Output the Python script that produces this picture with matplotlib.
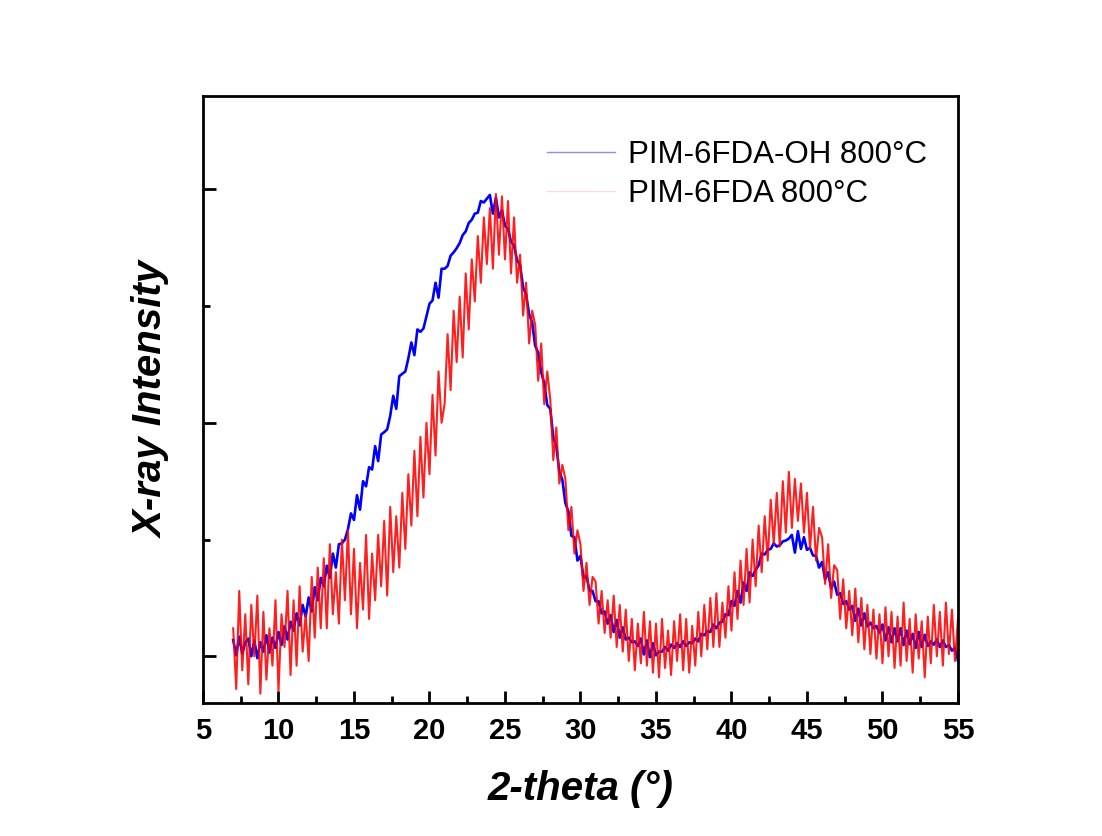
import numpy as np
import matplotlib
matplotlib.use("Agg")
import matplotlib.pyplot as plt
from matplotlib.lines import Line2D

plt.rcParams['font.family'] = ['Liberation Sans', 'DejaVu Sans']

# 2-theta grid (deg), 0.2 deg step from 7 to 55
two_theta = np.linspace(7.0, 55.0, 241)

# PIM-6FDA-OH 800oC (blue), one row per degree: x.0 x.2 x.4 x.6 x.8
int_oh = [
    35, 2, 42, 5, 30,           # 7
    38, 0, 34, -4, 30,          # 8
    10, 45, 8, 40, 18,          # 9
    52, 24, 64, 36, 74,         # 10
    55, 92, 66, 110, 85,        # 11
    126, 96, 148, 120, 168,     # 12
    150, 194, 168, 220, 190,    # 13
    240, 242, 250, 272, 306,    # 14
    292, 345, 314, 375, 364,    # 15
    405, 400, 450, 418, 475,    # 16
    480, 486, 515, 558, 530,    # 17
    600, 605, 610, 638, 672,    # 18
    645, 700, 695, 702, 728,    # 19
    755, 762, 800, 768, 830,    # 20
    830, 836, 858, 865, 874,    # 21
    885, 902, 910, 928, 935,    # 22
    948, 950, 975, 972, 980,    # 23
    988, 948, 982, 940, 955,    # 24
    922, 915, 888, 880, 848,    # 25
    838, 790, 775, 732, 715,    # 26
    665, 650, 608, 585, 538,    # 27
    530, 468, 450, 395, 378,    # 28
    328, 310, 258, 255, 205,    # 29
    215, 168, 172, 140, 140,    # 30
    118, 118, 92, 96, 70,       # 31
    88, 52, 78, 40, 62,         # 32
    36, 40, 30, 32, 22,         # 33
    38, 4, 34, -2, 28,          # 34
    2, 10, 10, 20, 12,          # 35
    25, 18, 28, 20, 32,         # 36
    22, 30, 28, 38, 32,         # 37
    48, 45, 54, 52, 68,         # 38
    60, 72, 74, 90, 88,         # 39
    118, 108, 140, 115, 158,    # 40
    140, 180, 172, 185, 195,    # 41
    220, 218, 228, 230, 242,    # 42
    235, 238, 246, 248, 252,    # 43
    260, 222, 268, 230, 255,    # 44
    228, 232, 216, 215, 190,    # 45
    202, 165, 180, 145, 160,    # 46
    132, 135, 112, 118, 100,    # 47
    108, 76, 102, 66, 92,       # 48
    64, 72, 60, 65, 50,         # 49
    68, 34, 62, 30, 60,         # 50
    32, 60, 24, 55, 26,         # 51
    48, 18, 52, 20, 46,         # 52
    22, 32, 25, 36, 20,         # 53
    34, 20, 24, 12, 18,         # 54
    -10,                        # 55
]

# PIM-6FDA 800oC (red), much noisier
int_6fda = [
    60, -70, 140, -30, 90,      # 7
    -60, 110, 0, 130, -80,      # 8
    95, -50, 60, -20, 120,      # 9
    -75, 90, 20, 140, -40,      # 10
    120, -20, 150, 10, 90,      # 11
    -10, 170, 40, 190, 60,      # 12
    210, 60, 240, 90, 180,      # 13
    70, 250, 120, 270, 90,      # 14
    230, 60, 200, 100, 260,     # 15
    80, 220, 120, 260, 150,     # 16
    290, 130, 320, 180, 300,    # 17
    190, 350, 230, 390, 280,    # 18
    440, 300, 470, 340, 500,    # 19
    390, 560, 430, 610, 500,    # 20
    540, 690, 570, 740, 630,    # 21
    770, 640, 820, 700, 850,    # 22
    760, 900, 800, 940, 840,    # 23
    960, 830, 990, 860, 985,    # 24
    850, 975, 820, 940, 800,    # 25
    860, 730, 800, 670, 740,    # 26
    710, 590, 670, 540, 610,    # 27
    550, 420, 490, 370, 410,    # 28
    380, 270, 320, 220, 270,    # 29
    240, 140, 200, 110, 170,    # 30
    160, 70, 140, 50, 120,      # 31
    40, 130, 20, 110, 10,       # 32
    100, -10, 80, -30, 70,      # 33
    -15, 95, -20, 75, -35,      # 34
    70, -45, 80, -25, 55,       # 35
    -40, 75, -10, 90, -30,      # 36
    80, -35, 65, -20, 95,       # 37
    0, 110, 15, 125, 20,        # 38
    135, 20, 115, 40, 150,      # 39
    55, 180, 80, 205, 110,      # 40
    230, 115, 250, 150, 280,    # 41
    180, 300, 205, 335, 240,    # 42
    350, 235, 375, 265, 395,    # 43
    275, 380, 290, 370, 265,    # 44
    350, 230, 320, 205, 275,    # 45
    255, 155, 240, 125, 195,    # 46
    185, 80, 165, 60, 140,      # 47
    45, 145, 30, 125, 15,       # 48
    110, 5, 100, -5, 90,        # 49
    -15, 105, 0, 95, -25,       # 50
    85, -20, 115, -10, 80,      # 51
    -35, 90, -5, 75, -45,       # 52
    85, -15, 110, 0, 95,        # 53
    -20, 115, 5, 100, -10,      # 54
    80,                         # 55
]

labels = ["PIM-6FDA-OH 800°C", "PIM-6FDA 800°C"]

fig = plt.figure(figsize=(11.02, 8.36), dpi=100)
ax = fig.add_axes([0.1842, 0.1591, 0.6851, 0.7261])

ax.plot(two_theta, int_oh, color="#0000ff", lw=1.9)
ax.plot(two_theta, int_6fda, color="#ff0000", lw=1.5, alpha=0.88)

ax.set_xlim(5, 55)
ax.set_ylim(-100, 1200)
ax.set_xticks(np.arange(5, 56, 5))
ax.set_xticks(np.arange(7.5, 55, 5), minor=True)
ax.set_yticks([0, 500, 1000])
ax.set_yticks([250, 750], minor=True)
ax.set_yticklabels([])

ax.tick_params(which="both", direction="in", width=2, top=False, right=False)
ax.tick_params(which="major", length=9)
ax.tick_params(which="minor", length=5)
ax.tick_params(axis="x", labelsize=21, pad=10)
for t in ax.get_xticklabels():
    t.set_fontweight("bold")
for s in ax.spines.values():
    s.set_linewidth(2)

ax.set_xlabel("2-theta (°)", fontsize=29, fontweight="bold", style="italic", labelpad=18)
ax.set_ylabel("X-ray Intensity", fontsize=29, fontweight="bold", style="italic", labelpad=20)

handles = [Line2D([], [], color="#0000ff", lw=1, alpha=0.45),
           Line2D([], [], color="#ff0000", lw=1, alpha=0.15)]
ax.legend(handles, labels, loc="upper left", bbox_to_anchor=(0.455, 0.928), frameon=False,
          fontsize=22.5, handlelength=2.2, handletextpad=0.4, labelspacing=0.3,
          borderpad=0, borderaxespad=0)

fig.savefig("out.png", dpi=100)
